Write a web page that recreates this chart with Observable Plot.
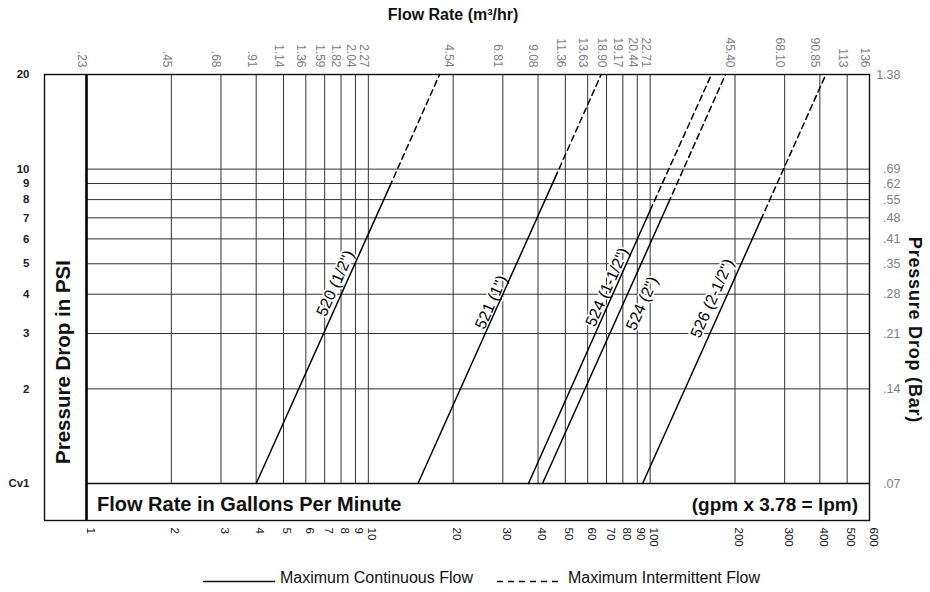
<!DOCTYPE html>
<html><head><meta charset="utf-8">
<script src="https://cdn.jsdelivr.net/npm/d3@7"></script>
<script src="https://cdn.jsdelivr.net/npm/@observablehq/plot@0.6"></script>
<style>
body{margin:0;background:#fff;overflow:hidden;}
#chart{width:930px;height:592px;}
</style>
</head><body><div id="chart"></div>
<script>
// ---- data ----
const gpmTicks = [1,2,3,4,5,6,7,8,9,10,20,30,40,50,60,70,80,90,100,200,300,400,500,600];
const gpmLabels = ["1","2","3","4","5","6","7","8","9","10","20","30","40","50","60","70","80","90","100","200","300","400","500","600"];
const m3hrLabels = [".23",".45",".68",".91","1.14","1.36","1.59","1.82","2.04","2.27","4.54","6.81","9.08","11.36","13.63","18.90","19.17","20.44","22.71","45.40","68.10","90.85","113","136"];
const psiTicks = [1,2,3,4,5,6,7,8,9,10,20];
const psiLabels = ["Cv1","2","3","4","5","6","7","8","9","10","20"];
const barLabels = [".07",".14",".21",".28",".35",".41",".48",".55",".62",".69","1.38"];

const seriesNames = ["520 (1/2'')","521 (1'')","524 (1-1/2'')","524 (2'')","526 (2-1/2'')"];
const flowAt1psi  = [4, 15, 37, 41.5, 94];
const flowAtLimit = [11.9, 46, 100, 116, 247];
const psiAtLimit  = [8.8, 9.4, 7.4, 7.8, 6.9];
const flowAt20psi = [17.9, 67, 165, 185, 420];
const labelFlow   = [7.64, 27.3, 70.4, 93.7, 166];
const labelPsi    = [4.33, 3.77, 4.21, 3.74, 3.88];

// ---- layout ----
const W = 930, H = 592;
const mL = 86, mR = 61, mT = 74, mB = 109;
const boxLeft = 44, boxBottom = 520;
const FONT = "'Liberation Sans', Arial, Helvetica, sans-serif";

const xs = d3.scaleLog().domain([1,600]).range([mL, W - mR]);
const ys = d3.scaleLog().domain([1,20]).range([H - mB, mT]);
const angle = -Math.atan2(ys(1) - ys(20), xs(flowAt20psi[0]) - xs(flowAt1psi[0])) * 180 / Math.PI;

const solid = [], dashed = [], labels = [];
seriesNames.forEach((name, i) => {
  solid.push({name, gpm: flowAt1psi[i], psi: 1});
  solid.push({name, gpm: flowAtLimit[i], psi: psiAtLimit[i]});
  dashed.push({name, gpm: flowAtLimit[i], psi: psiAtLimit[i]});
  dashed.push({name, gpm: flowAt20psi[i], psi: 20});
  labels.push({name, gpm: labelFlow[i], psi: labelPsi[i]});
});

const plot = Plot.plot({
  width: W, height: H,
  marginLeft: mL, marginRight: mR, marginTop: mT, marginBottom: mB,
  style: {fontFamily: FONT, background: "white", overflow: "visible"},
  x: {type: "log", domain: [1, 600], axis: null},
  y: {type: "log", domain: [1, 20], axis: null},
  marks: [
    Plot.ruleY(psiTicks.slice(1, 10), {stroke: "#333", strokeWidth: 1}),
    Plot.ruleX(gpmTicks.slice(1), {stroke: "#333", strokeWidth: 1}),
    Plot.ruleY([1], {stroke: "#111", strokeWidth: 1.4}),
    Plot.ruleX([1], {stroke: "#000", strokeWidth: 2.6, insetBottom: -(boxBottom - (H - mB))}),
    Plot.frame({stroke: "#111", strokeWidth: 1.4, insetLeft: -(mL - boxLeft), insetBottom: -(boxBottom - (H - mB))}),
    Plot.text(labels, {x: "gpm", y: "psi", text: "name", rotate: angle, fontSize: 16,
      fill: "black", stroke: "white", strokeWidth: 3.5}),
    Plot.line(solid, {x: "gpm", y: "psi", z: "name", stroke: "black", strokeWidth: 1.5}),
    Plot.line(dashed, {x: "gpm", y: "psi", z: "name", stroke: "black", strokeWidth: 1.5, strokeDasharray: "6,4"}),
    // top axis (m3/hr)
    Plot.text(gpmTicks, {x: d => d, text: (d, i) => m3hrLabels[i], frameAnchor: "top", dy: -7,
      rotate: 90, textAnchor: "end", fontSize: 12, fill: "#808080"}),
    // bottom axis (gpm)
    Plot.text(gpmTicks, {x: d => d, text: (d, i) => gpmLabels[i], frameAnchor: "bottom", dy: 44,
      rotate: 90, textAnchor: "start", fontSize: 11.5, fill: "#111"}),
    // left axis (psi)
    Plot.text(psiTicks, {y: d => d, text: (d, i) => psiLabels[i], frameAnchor: "left", dx: -57,
      textAnchor: "end", fontSize: 11.5, fontWeight: "bold", fill: "#222"}),
    // right axis (bar)
    Plot.text(psiTicks, {y: d => d, text: (d, i) => barLabels[i], frameAnchor: "right", dx: 31,
      textAnchor: "end", fontSize: 12.5, fill: "#808080"})
  ]
});

const svg = d3.select(plot);
function addText(txt, x, y, opts = {}) {
  const t = svg.append("text").attr("x", x).attr("y", y)
    .attr("font-family", FONT)
    .attr("font-size", opts.size || 16)
    .attr("font-weight", opts.weight || "normal")
    .attr("fill", opts.fill || "#111")
    .attr("text-anchor", opts.anchor || "start");
  if (opts.spacing) t.attr("letter-spacing", opts.spacing);
  if (opts.rotate) t.attr("transform", `rotate(${opts.rotate},${x},${y})`).attr("dominant-baseline", "central");
  t.text(txt);
  return t;
}
addText("Flow Rate (m\u00B3/hr)", 453, 20, {size: 16, weight: "bold", anchor: "middle"});
addText("Flow Rate in Gallons Per Minute", 97, 511, {size: 20, weight: "bold"});
addText("(gpm x 3.78 = lpm)", 858, 511, {size: 19, weight: "bold", anchor: "end"});
addText("Pressure Drop in PSI", 62, 362, {size: 20.5, weight: "bold", anchor: "middle", rotate: -90});
addText("Pressure Drop (Bar)", 915, 330, {size: 18, weight: "bold", anchor: "middle", rotate: 90, spacing: 0.8});

// legend
svg.append("line").attr("x1", 203).attr("x2", 275).attr("y1", 581.5).attr("y2", 581.5)
  .attr("stroke", "#111").attr("stroke-width", 1.5);
addText("Maximum Continuous Flow", 280, 583, {size: 16});
svg.append("line").attr("x1", 497).attr("x2", 563).attr("y1", 581.5).attr("y2", 581.5)
  .attr("stroke", "#111").attr("stroke-width", 1.5).attr("stroke-dasharray", "6,5");
addText("Maximum Intermittent Flow", 568, 583, {size: 16});

document.getElementById("chart").appendChild(plot);
</script></body></html>
